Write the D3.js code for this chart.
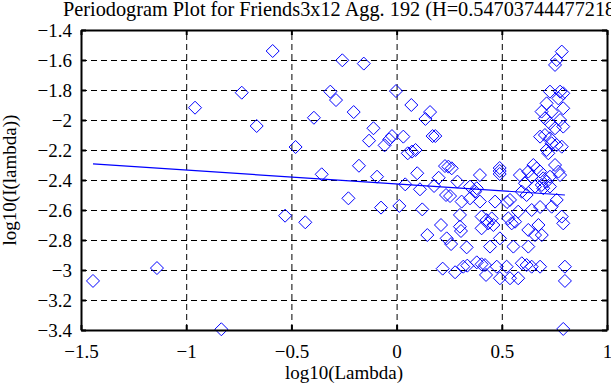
<!DOCTYPE html>
<html>
<head>
<meta charset="utf-8">
<script src="https://cdn.jsdelivr.net/npm/d3@7"></script>
<style>
  body { margin: 0; background: #fff; }
  text { font-family: "Liberation Serif", "Times New Roman", serif; }
</style>
</head>
<body>
<script>
var titleText = 'Periodogram Plot for Friends3x12 Agg. 192 (H=0.54703744477218)';
var xLabel = 'log10(Lambda)';
var yLabel = 'log10(I(lambda))';

var xTicks = [-1.5, -1, -0.5, 0, 0.5, 1];
var yTicks = [-3.4, -3.2, -3, -2.8, -2.6, -2.4, -2.2, -2, -1.8, -1.6, -1.4];

// periodogram points
var lambdaX = [
  -1.443, -1.139, -0.958, -0.736, -0.665, -0.833, -0.589, -0.258, -0.156, -0.003,
  -0.315, -0.288, 0.070, -0.204, 0.159, 0.137, -0.393, -0.110, -0.131, -0.022,
  -0.035, -0.057, 0.032, 0.171, 0.184, -0.480, 0.053, 0.073, 0.090, 0.230,
  -0.179, 0.098, 0.200, -0.356, -0.093, 0.041, 0.111, 0.178, -0.229, 0.235,
  -0.074, 0.013, 0.122, -0.530, -0.434, 0.211, 0.146, 0.238, 0.219, 0.246,
  0.262, 0.396, 0.289, 0.349, 0.381, 0.254, 0.309, 0.349, 0.373, 0.396,
  0.301, 0.404, 0.428, 0.301, 0.306, 0.259, 0.333, 0.404, 0.278, 0.317,
  0.336, 0.381, 0.404, 0.425, 0.468, 0.539, 0.595, 0.618, 0.697, 0.729,
  0.761, 0.737, 0.785, 0.792, 0.642, 0.578, 0.452, 0.435, 0.460, 0.531,
  0.547, 0.563, 0.626, 0.674, 0.690, 0.658, 0.491, 0.444, 0.555, 0.626,
  0.420, 0.476, 0.491, 0.523, 0.539, 0.578, 0.595, 0.618, 0.642, 0.682,
  0.800, 0.800, 0.792, 0.785, 0.761, 0.753, 0.729, 0.777, 0.792, 0.769,
  0.792, 0.713, 0.689, 0.737, 0.777, 0.792, 0.705, 0.729, 0.753, 0.682,
  0.705, 0.729, 0.737, 0.761, 0.785, 0.713, 0.721, 0.490, 0.490, 0.490,
  0.586, 0.650, 0.666, 0.682, 0.753, 0.769, 0.626, 0.642, 0.697, 0.713,
  0.729, 0.777, 0.610, 0.658, 0.690, 0.525, 0.682
];
var periodY = [
  -3.073, -2.987, -1.918, -1.818, -2.040, -3.395, -1.540, -1.602, -1.624, -1.807,
  -1.811, -1.867, -1.900, -1.947, -1.947, -1.993, -1.985, -2.055, -2.138, -2.107,
  -2.129, -2.169, -2.111, -2.107, -2.107, -2.180, -2.222, -2.211, -2.200, -2.307,
  -2.305, -2.355, -2.385, -2.362, -2.378, -2.429, -2.462, -2.440, -2.522, -2.500,
  -2.584, -2.573, -2.596, -2.638, -2.682, -2.700, -2.767, -2.789, -2.991, -2.311,
  -2.322, -2.367, -2.411, -2.444, -2.455, -2.507, -2.544, -2.522, -2.478, -2.544,
  -2.633, -2.644, -2.667, -2.711, -2.740, -2.827, -2.849, -2.722, -3.015, -2.978,
  -2.971, -2.949, -2.962, -3.033, -2.544, -2.533, -2.478, -2.500, -2.455, -2.444,
  -2.533, -2.578, -2.644, -2.689, -2.600, -2.611, -2.656, -2.689, -2.700, -2.656,
  -2.689, -2.678, -2.733, -2.700, -2.767, -2.767, -2.789, -2.844, -2.844, -2.844,
  -2.967, -2.978, -3.055, -2.978, -3.055, -3.055, -2.955, -2.967, -2.978, -2.978,
  -2.978, -3.073, -3.393, -1.544, -1.600, -1.633, -1.811, -1.811, -1.822, -1.856,
  -1.922, -1.889, -1.944, -1.944, -2.000, -2.044, -1.989, -2.022, -2.055, -2.111,
  -2.100, -2.122, -2.155, -2.167, -2.178, -2.200, -2.222, -2.320, -2.340, -2.360,
  -2.367, -2.300, -2.322, -2.344, -2.300, -2.344, -2.344, -2.378, -2.389, -2.411,
  -2.378, -2.367, -2.422, -2.444, -2.433, -2.547, -2.580
];

// least squares fit line endpoints
var fitX = [-1.443, 0.800];
var fitY = [-2.293, -2.500];

var width = 611, height = 385;
var margin = { top: 30, right: 4, bottom: 55, left: 81 };

var svg = d3.select('body').append('svg')
  .attr('width', width)
  .attr('height', height);

var x = d3.scaleLinear().domain([-1.5, 1]).range([margin.left, width - margin.right]);
var y = d3.scaleLinear().domain([-3.4, -1.4]).range([height - margin.bottom, margin.top]);

var fmt = d3.format('~g');
var innerH = y.range()[0] - y.range()[1];
var innerW = x.range()[1] - x.range()[0];

// dashed grid
svg.append('g')
  .attr('transform', 'translate(0,' + y.range()[0] + ')')
  .call(d3.axisBottom(x).tickValues(xTicks.slice(1, -1)).tickSize(-innerH).tickFormat(''))
  .call(function (g) {
    g.select('.domain').remove();
    g.selectAll('line').attr('stroke', '#000').attr('stroke-dasharray', '6,4');
  });
svg.append('g')
  .attr('transform', 'translate(' + x.range()[0] + ',0)')
  .call(d3.axisLeft(y).tickValues(yTicks.slice(1, -1)).tickSize(-innerW).tickFormat(''))
  .call(function (g) {
    g.select('.domain').remove();
    g.selectAll('line').attr('stroke', '#000').attr('stroke-dasharray', '6,4');
  });

// markers
var pts = lambdaX.map(function (d, i) { return [d, periodY[i]]; });
var r = 6.5;
svg.append('g').selectAll('path')
  .data(pts)
  .enter()
  .append('path')
  .attr('d', function (d) {
    var cx = x(d[0]), cy = y(d[1]);
    return 'M' + cx + ',' + (cy - r) + 'L' + (cx + r) + ',' + cy +
           'L' + cx + ',' + (cy + r) + 'L' + (cx - r) + ',' + cy + 'Z';
  })
  .attr('fill', 'none')
  .attr('stroke', '#0000ff')
  .attr('stroke-width', 1);

// fit line
svg.append('line')
  .attr('x1', x(fitX[0])).attr('y1', y(fitY[0]))
  .attr('x2', x(fitX[1])).attr('y2', y(fitY[1]))
  .attr('stroke', '#0000ff')
  .attr('stroke-width', 1.2);

// axes frame
function styleAxis(g) {
  g.attr('font-family', null);
  g.select('.domain').attr('stroke', '#000').attr('stroke-width', 2);
  g.selectAll('.tick line').attr('stroke', '#000').attr('stroke-width', 2);
  g.selectAll('.tick text').attr('fill', '#000').style('font-size', '19px');
}

svg.append('g')
  .attr('transform', 'translate(0,' + y.range()[0] + ')')
  .call(d3.axisBottom(x).tickValues(xTicks).tickSize(-5).tickSizeOuter(0).tickPadding(15).tickFormat(fmt))
  .call(styleAxis);
svg.append('g')
  .attr('transform', 'translate(0,' + y.range()[1] + ')')
  .call(d3.axisTop(x).tickValues(xTicks).tickSize(-5).tickSizeOuter(0).tickFormat(''))
  .call(styleAxis);
svg.append('g')
  .attr('transform', 'translate(' + x.range()[0] + ',0)')
  .call(d3.axisLeft(y).tickValues(yTicks).tickSize(-5).tickSizeOuter(0).tickPadding(9).tickFormat(fmt))
  .call(styleAxis);
svg.append('g')
  .attr('transform', 'translate(' + x.range()[1] + ',0)')
  .call(d3.axisRight(y).tickValues(yTicks).tickSize(-5).tickSizeOuter(0).tickFormat(''))
  .call(styleAxis);

// labels (title runs off the right edge, as in the original)
svg.append('text')
  .attr('x', 63).attr('y', 16)
  .style('font-size', '20.3px')
  .text(titleText);

svg.append('text')
  .attr('x', (x.range()[0] + x.range()[1]) / 2).attr('y', 379)
  .attr('text-anchor', 'middle')
  .style('font-size', '19px')
  .text(xLabel);

svg.append('text')
  .attr('transform', 'translate(16,' + (y.range()[0] + y.range()[1]) / 2 + ') rotate(-90)')
  .attr('text-anchor', 'middle')
  .style('font-size', '19px')
  .text(yLabel);
</script>
</body>
</html>
